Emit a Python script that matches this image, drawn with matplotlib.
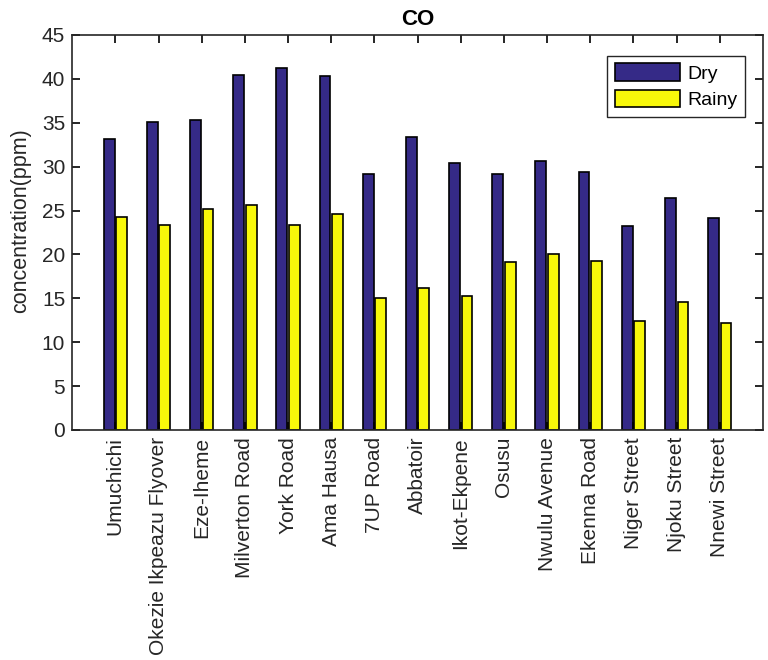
import matplotlib.pyplot as plt
import numpy as np

plt.rcParams['font.family'] = ['Liberation Sans', 'DejaVu Sans']

# Sites and CO concentration (ppm)
sites = ["Umuchichi", "Okezie Ikpeazu Flyover", "Eze-Iheme", "Milverton Road",
         "York Road", "Ama Hausa", "7UP Road", "Abbatoir", "Ikot-Ekpene",
         "Osusu", "Nwulu Avenue", "Ekenna Road", "Niger Street",
         "Njoku Street", "Nnewi Street"]
dry = [33.2, 35.1, 35.3, 40.4, 41.2, 40.3, 29.2, 33.4, 30.4, 29.2,
       30.6, 29.4, 23.2, 26.4, 24.2]
rainy = [24.3, 23.4, 25.2, 25.6, 23.4, 24.6, 15.0, 16.2, 15.3, 19.1,
         20.1, 19.2, 12.4, 14.6, 12.2]

x = np.arange(1, len(sites) + 1)

fig = plt.figure(figsize=(7.68, 6.6), dpi=100)
ax = fig.add_axes([0.094, 0.3485, 0.8995, 0.5985])

w = 0.25
ax.bar(x - 0.145, dry, width=w, color='#352a87', edgecolor='black', linewidth=1.2, label='Dry')
ax.bar(x + 0.145, rainy, width=w, color='#f7f70a', edgecolor='black', linewidth=1.2, label='Rainy')

ax.set_xlim(0, 16)
ax.set_ylim(0, 45)
ax.set_yticks(np.arange(0, 46, 5))
ax.set_xticks(x)
ax.set_xticklabels(sites, rotation=90, fontsize=15, color='#262626')
ax.tick_params(axis='y', labelsize=15, labelcolor='#262626')
ax.tick_params(direction='in', length=6, top=True, right=True, width=1.2, pad=5)
for s in ax.spines.values():
    s.set_linewidth(1.2)
    s.set_color('#262626')

ax.set_ylabel('concentration(ppm)', fontsize=15.5, color='#262626')
ax.yaxis.set_label_coords(-0.06, 0.53)
ax.set_title('CO', fontsize=16, fontweight='bold', pad=7)

leg = ax.legend(loc='upper right', bbox_to_anchor=(0.974, 0.9476), fontsize=14,
                fancybox=False, edgecolor='#262626', framealpha=1,
                handlelength=3.35, handleheight=1.0, borderaxespad=0,
                labelspacing=0.35, handletextpad=0.35, borderpad=0.4)
leg.get_frame().set_linewidth(1.0)

plt.savefig('out.png', dpi=100)
